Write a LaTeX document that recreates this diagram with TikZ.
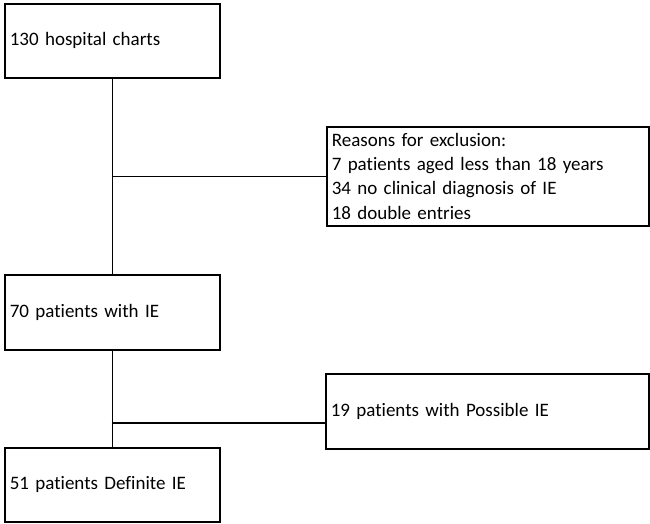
\documentclass[tikz,border=0pt]{standalone}
\usepackage{fontspec}
\setmainfont{Carlito}[Ligatures=NoCommon]
\begin{document}
\begin{tikzpicture}[x=1pt,y=-1pt,
  chartbox/.style={draw, line width=1.6pt, anchor=north west, inner xsep=5pt, inner ysep=0pt, align=left, font=\fontsize{19}{24.3}\selectfont},
  link/.style={line width=1.6pt}]
\useasboundingbox (0,0) rectangle (650,523);
\node[chartbox, text width=205, minimum height=74] (charts) at (4,3) {130 hospital charts};
\node[chartbox, text width=312, minimum height=99] (exclusion) at (326,126) {Reasons for exclusion:\\7 patients aged less than 18 years\\34 no clinical diagnosis of IE\\18 double entries};
\node[chartbox, text width=205, minimum height=75] (ie) at (4,274) {70 patients with IE};
\node[chartbox, text width=313, minimum height=75] (possible) at (325,373) {19 patients with Possible IE};
\node[chartbox, text width=205, minimum height=74] (definite) at (4,447) {51 patients Definite IE};
\draw[link] (charts.south) -- (charts.south |- ie.north);
\coordinate (split1) at (charts.south |- exclusion.west);
\draw[link] (split1) -- (exclusion.west);
\draw[link] (ie.south) -- (definite.north);
\coordinate (split2) at (111.5,423);
\draw[link] (split2) -- (split2 -| possible.west);
\end{tikzpicture}
\end{document}
